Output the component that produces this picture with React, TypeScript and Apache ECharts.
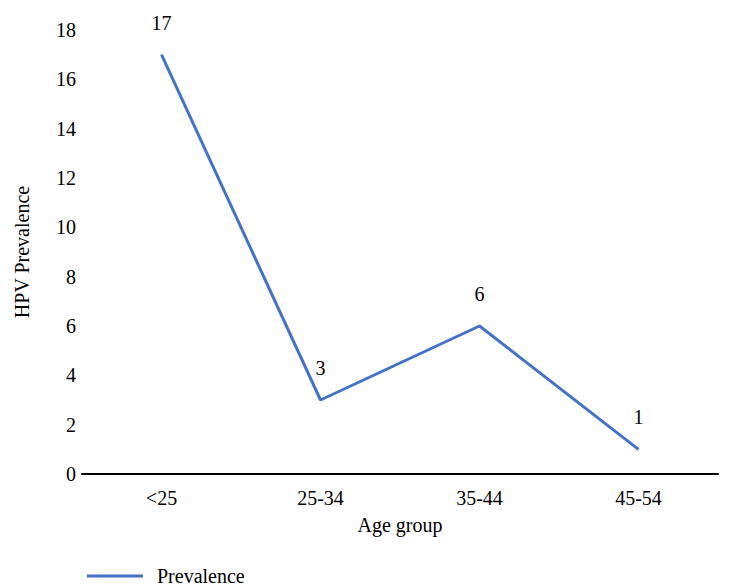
import React, { useEffect, useRef } from "react";
import * as echarts from "echarts";

const categories = ["<25", "25-34", "35-44", "45-54"];
const prevalence = [17, 3, 6, 1];
const seriesName = "Prevalence";
const xTitle = "Age group";
const yTitle = "HPV Prevalence";

const FONT = "'Liberation Serif', 'DejaVu Serif', serif";

export default function App() {
  const ref = useRef<HTMLDivElement>(null);
  useEffect(() => {
    if (!ref.current) return;
    const chart = echarts.init(ref.current, null, { renderer: "svg" });
    chart.setOption({
      animation: false,
      backgroundColor: "#ffffff",
      textStyle: { fontFamily: FONT, color: "#000" },
      grid: { left: 82, right: 11, top: 30, bottom: 114, containLabel: false },
      legend: {
        left: 82,
        top: 561,
        icon: "rect",
        itemWidth: 56,
        itemHeight: 3,
        textStyle: { fontFamily: FONT, fontSize: 20, color: "#000", padding: [0, 0, 0, 9] },
        data: [seriesName],
      },
      xAxis: {
        type: "category",
        data: categories,
        boundaryGap: true,
        name: xTitle,
        nameLocation: "middle",
        nameGap: 41,
        nameTextStyle: { fontFamily: FONT, fontSize: 20, color: "#000" },
        axisLine: { show: true, lineStyle: { color: "#000", width: 2 } },
        axisTick: { show: false },
        axisLabel: { fontFamily: FONT, fontSize: 20, color: "#000", margin: 14 },
        splitLine: { show: false },
      },
      yAxis: {
        type: "value",
        min: 0,
        max: 18,
        interval: 2,
        name: yTitle,
        nameLocation: "middle",
        nameGap: 50,
        nameTextStyle: { fontFamily: FONT, fontSize: 20, color: "#000" },
        axisLine: { show: false },
        axisTick: { show: false },
        axisLabel: { fontFamily: FONT, fontSize: 20, color: "#000", margin: 6 },
        splitLine: { show: false },
      },
      series: [
        {
          name: seriesName,
          type: "line",
          data: prevalence,
          symbol: "circle",
          symbolSize: 0,
          showSymbol: true,
          lineStyle: { color: "#4472C4", width: 3 },
          itemStyle: { color: "#4472C4" },
          label: {
            show: true,
            position: "top",
            distance: 22,
            fontFamily: FONT,
            fontSize: 20,
            color: "#000",
          },
        },
      ],
    });
    return () => chart.dispose();
  }, []);
  return <div ref={ref} style={{ width: 729, height: 588, position: "absolute", left: 0, top: 0 }} />;
}
